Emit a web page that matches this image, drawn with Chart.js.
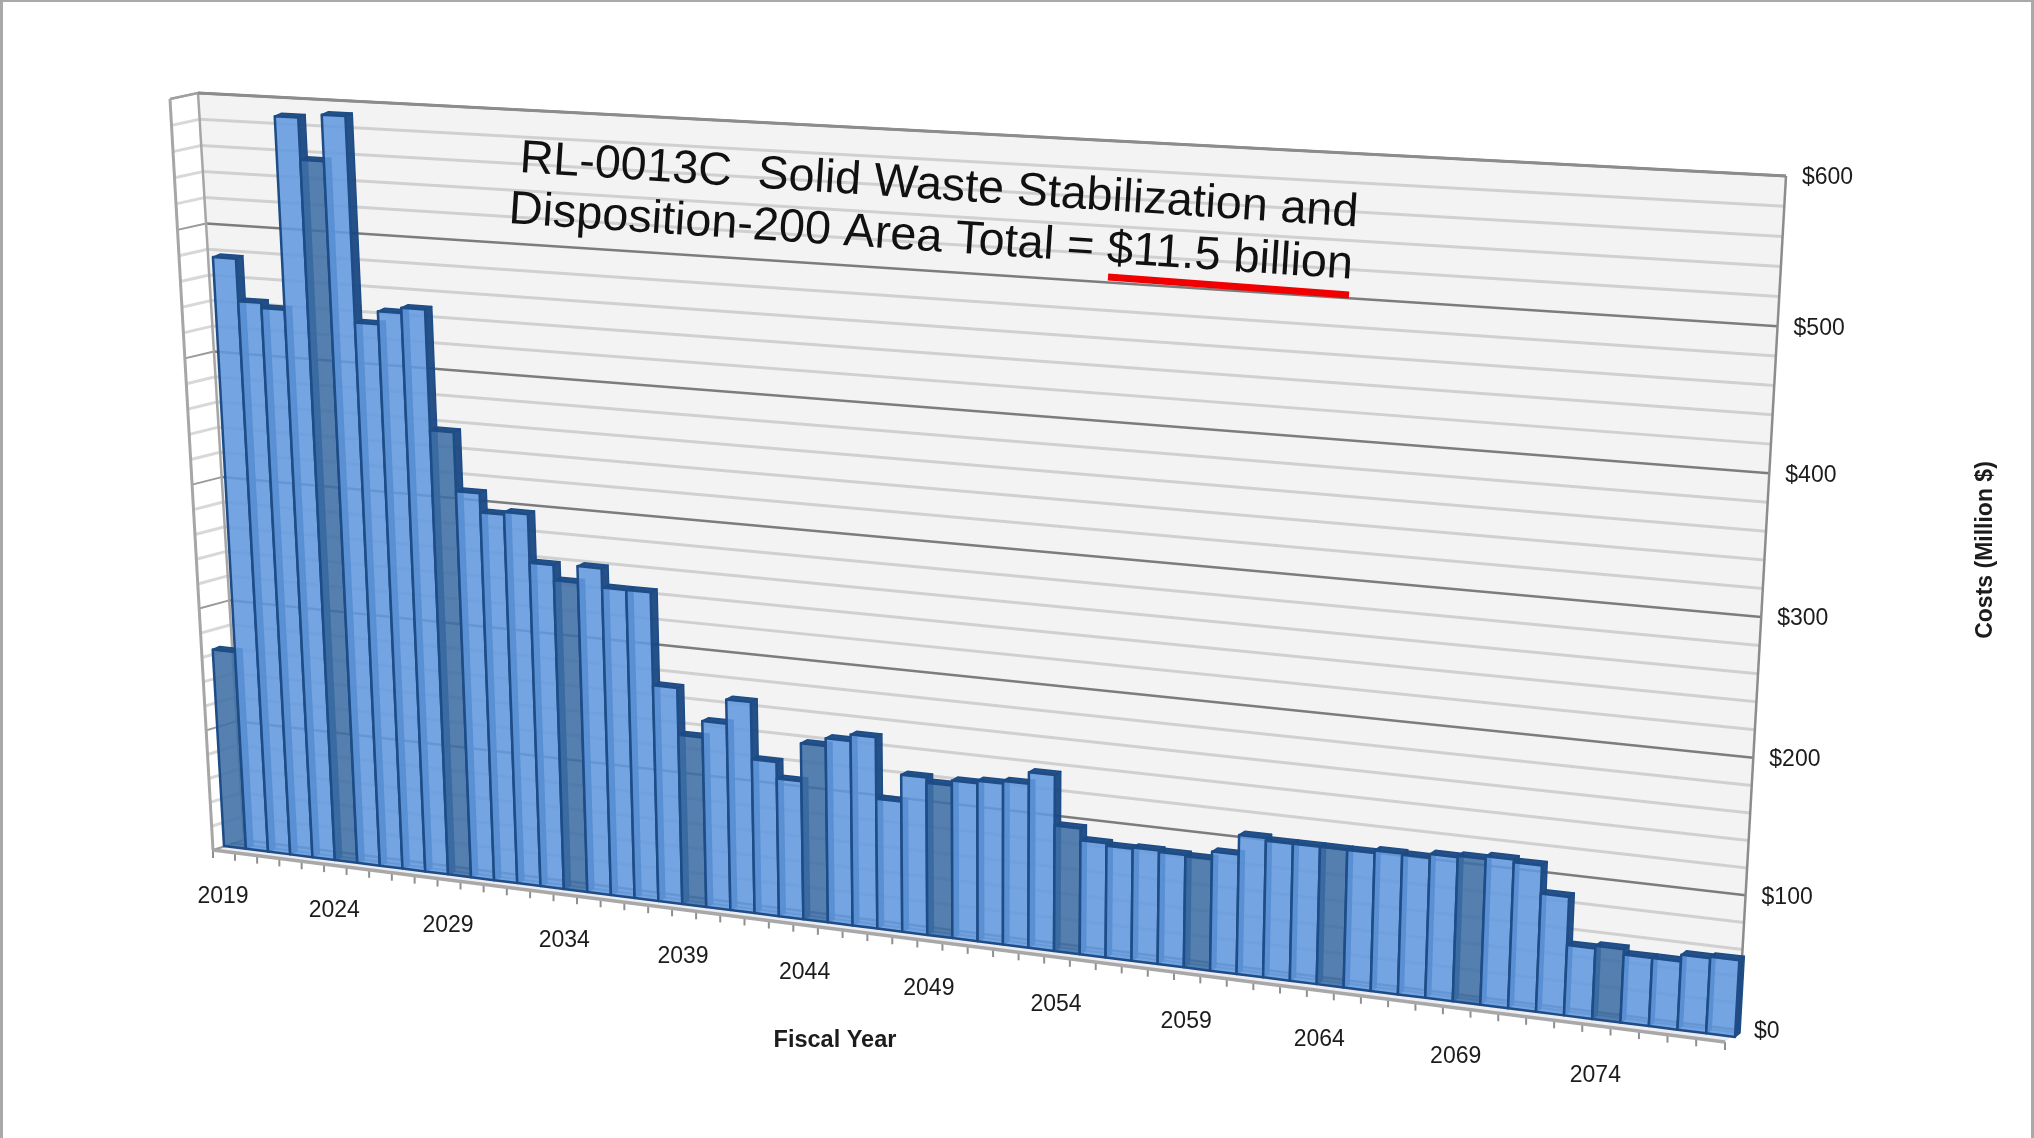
<!DOCTYPE html>
<html>
<head>
<meta charset="utf-8">
<title>RL-0013C Solid Waste Stabilization and Disposition</title>
<script src="https://cdn.jsdelivr.net/npm/chart.js@4/dist/chart.umd.min.js"></script>
<style>
    html, body { margin: 0; padding: 0; background: #fff; overflow: hidden; }
    #wrap { position: relative; width: 2034px; height: 1138px; }
    #frame { position: absolute; inset: 0; box-sizing: border-box; border: solid #a9a9a9; border-width: 2px 3px 0 3px; pointer-events: none; }
</style>
</head>
<body>
<div id="wrap">
    <canvas id="costs-chart" width="2034" height="1138"></canvas>
    <div id="frame"></div>
</div>
<script>
// Chart values
const fiscalYears = [
    '2019', '2020', '2021', '2022', '2023', '2024', '2025', '2026', '2027', '2028',
    '2029', '2030', '2031', '2032', '2033', '2034', '2035', '2036', '2037', '2038',
    '2039', '2040', '2041', '2042', '2043', '2044', '2045', '2046', '2047', '2048',
    '2049', '2050', '2051', '2052', '2053', '2054', '2055', '2056', '2057', '2058',
    '2059', '2060', '2061', '2062', '2063', '2064', '2065', '2066', '2067', '2068',
    '2069', '2070', '2071', '2072', '2073', '2074', '2075', '2076', '2077', '2078'
];
const costs = [
    164, 479, 446, 442, 590, 558, 593, 436, 446, 450,
    357, 311, 296, 298, 260, 248, 261, 246, 246, 173,
    136, 149, 168, 123, 110, 140, 146, 151, 103, 124,
    120, 124, 126, 128, 137, 98, 89, 87, 88, 87,
    86, 92, 107, 105, 105, 105, 105, 107, 106, 109,
    110, 112, 110, 89, 53, 55, 51, 51, 56, 57
];
const titleLines = ['RL-0013C  Solid Waste Stabilization and', 'Disposition-200 Area Total = $11.5 billion'];
const xAxisTitle = 'Fiscal Year';
const yAxisTitle = 'Costs (Million $)';

// Corners of the 3D box as [x, y]: bottom-left, bottom-right, top-right, top-left
const wallQuad = [[244, 840], [1738, 1030], [1786, 176], [198, 93]];
const edgeQuad = [[213, 850], [1725, 1042], [1772, 186], [170, 99]];
const barFrontQuad = [[224, 846], [1735, 1037], [1783, 183], [181, 98]];
const barBackQuad = [[231, 843], [1740, 1033], [1788, 179], [188, 95]];

const LIGHT_BAR = 'rgba(98, 152, 222, 0.88)';
const DARK_BAR = 'rgba(62, 110, 165, 0.88)';
const BAR_EDGE = '#1d4c86';
const BAR_SIDE = 'rgba(26, 72, 130, 0.95)';
const FONT = '"Liberation Sans", Arial, sans-serif';

// Unit square to quad, so the bars keep the perspective of the box
function makeProjection(quad) {
    const [[x0, y0], [x1, y1], [x2, y2], [x3, y3]] = quad;
    const dx1 = x1 - x2, dx2 = x3 - x2, sx = x0 - x1 + x2 - x3;
    const dy1 = y1 - y2, dy2 = y3 - y2, sy = y0 - y1 + y2 - y3;
    const den = dx1 * dy2 - dx2 * dy1;
    const g = (sx * dy2 - dx2 * sy) / den;
    const h = (dx1 * sy - sx * dy1) / den;
    const a = x1 - x0 + g * x1, b = x3 - x0 + h * x3;
    const d = y1 - y0 + g * y1, e = y3 - y0 + h * y3;
    return (u, v) => {
        const w = g * u + h * v + 1;
        return [(a * u + b * v + x0) / w, (d * u + e * v + y0) / w];
    };
}

const toWall = makeProjection(wallQuad);
const toEdge = makeProjection(edgeQuad);
const toBarFront = makeProjection(barFrontQuad);
const toBarBack = makeProjection(barBackQuad);

function line(ctx, p, q, color, width) {
    ctx.beginPath();
    ctx.moveTo(p[0], p[1]);
    ctx.lineTo(q[0], q[1]);
    ctx.strokeStyle = color;
    ctx.lineWidth = width;
    ctx.stroke();
}

function polygon(ctx, points, fill, stroke, width) {
    ctx.beginPath();
    points.forEach((p, i) => (i ? ctx.lineTo(p[0], p[1]) : ctx.moveTo(p[0], p[1])));
    ctx.closePath();
    if (fill) {
        ctx.fillStyle = fill;
        ctx.fill();
    }
    if (stroke) {
        ctx.strokeStyle = stroke;
        ctx.lineWidth = width;
        ctx.lineJoin = 'round';
        ctx.stroke();
    }
}

function drawNoteLine(ctx, text, x, y, degrees, size) {
    ctx.save();
    ctx.fillStyle = '#111111';
    ctx.textAlign = 'left';
    ctx.textBaseline = 'alphabetic';
    ctx.font = size + 'px ' + FONT;
    ctx.translate(x, y);
    ctx.rotate(degrees * Math.PI / 180);
    ctx.fillText(text, 0, 0);
    ctx.restore();
}

const perspectivePlugin = {
    id: 'perspectiveBox',

    // Walls, floor and gridlines go under the bars
    beforeDatasetsDraw(chart) {
        const ctx = chart.ctx;
        const area = chart.chartArea;
        const yScale = chart.scales.y;
        const xScale = chart.scales.x;

        polygon(ctx, [toEdge(0, 0), toWall(0, 0), toWall(0, 1), toEdge(0, 1)], '#ffffff');
        polygon(ctx, wallQuad, '#f3f3f3');
        polygon(ctx, [toEdge(0, 0), toEdge(1, 0), toWall(1, 0), toWall(0, 0)], '#ececf2');

        yScale.ticks.forEach(tick => {
            const v = (area.bottom - yScale.getPixelForValue(tick.value)) / area.height;
            const major = tick.value % 100 === 0;
            line(ctx, toWall(0, v), toWall(1, v), major ? '#7c7c7c' : '#d0d0d0', major ? 2.5 : 3);
            line(ctx, toEdge(0, v), toWall(0, v), major ? '#9a9a9a' : '#d8d8d8', major ? 2 : 3);
        });

        line(ctx, toEdge(0, 1), toWall(0, 1), '#a0a0a0', 2.5);
        line(ctx, toEdge(0, 0), toEdge(0, 1), '#a6a6a6', 3);
        line(ctx, toWall(0, 0), toWall(0, 1), '#a6a6a6', 2.5);
        line(ctx, toWall(0, 1), toWall(1, 1), '#8c8c8c', 3);
        line(ctx, toWall(1, 1), toWall(1, 0), '#8c8c8c', 2.5);

        // Category ticks along the front edge of the floor
        const count = xScale.ticks.length;
        for (let i = 0; i <= count; i++) {
            const p = toEdge(i / count, 0);
            line(ctx, p, [p[0], p[1] + 8], '#8f8f8f', 2);
        }
    },

    // The bars are drawn here as boxes, from the elements the bar controller laid out
    beforeDatasetDraw(chart, args) {
        const ctx = chart.ctx;
        const area = chart.chartArea;
        const toU = px => (px - area.left) / area.width;
        const toV = py => (area.bottom - py) / area.height;

        args.meta.data.forEach(bar => {
            const { x, y, base, width } = bar.getProps(['x', 'y', 'base', 'width'], true);
            const u0 = toU(x - width / 2), u1 = toU(x + width / 2);
            const v0 = toV(base), v1 = toV(y);

            line(ctx, toBarBack(u0, v0), toBarBack(u1, v0), 'rgba(29, 76, 134, 0.5)', 2);
            polygon(ctx, [toBarFront(u1, v0), toBarBack(u1, v0), toBarBack(u1, v1), toBarFront(u1, v1)], BAR_SIDE, BAR_EDGE, 1.5);
            polygon(ctx, [toBarFront(u0, v1), toBarFront(u1, v1), toBarBack(u1, v1), toBarBack(u0, v1)], BAR_SIDE, BAR_EDGE, 1.5);
            polygon(ctx, [toBarFront(u0, v0), toBarFront(u1, v0), toBarFront(u1, v1), toBarFront(u0, v1)],
                bar.options.backgroundColor, bar.options.borderColor, bar.options.borderWidth);
        });
        return false;
    },

    // Floor edge, labels and the note across the wall go on top
    afterDatasetsDraw(chart) {
        const ctx = chart.ctx;
        const area = chart.chartArea;
        const yScale = chart.scales.y;
        const xScale = chart.scales.x;

        line(ctx, toEdge(0, 0), toEdge(1, 0), '#a8a8a8', 3.5);

        ctx.fillStyle = '#1c1c1c';
        ctx.textBaseline = 'middle';
        ctx.font = '23px ' + FONT;

        ctx.textAlign = 'left';
        yScale.ticks.forEach(tick => {
            if (!tick.label) return;
            const v = (area.bottom - yScale.getPixelForValue(tick.value)) / area.height;
            const p = toWall(1, v);
            ctx.fillText(tick.label, p[0] + 16, p[1] + 2);
        });

        ctx.textAlign = 'center';
        xScale.ticks.forEach((tick, i) => {
            if (!tick.label) return;
            const u = (xScale.getPixelForValue(i) - area.left) / area.width;
            const p = toEdge(u, 0);
            ctx.fillText(tick.label, p[0] - 1, p[1] + 45 + 5 * u);
        });

        ctx.font = 'bold 23.5px ' + FONT;
        ctx.fillText(xAxisTitle, 835, 1041);
        ctx.save();
        ctx.font = 'bold 23px ' + FONT;
        ctx.translate(1986, 550);
        ctx.rotate(-Math.PI / 2);
        ctx.fillText(yAxisTitle, 0, 0);
        ctx.restore();

        drawNoteLine(ctx, titleLines[0], 519, 172, 3.72, 46.6);
        drawNoteLine(ctx, titleLines[1], 508, 223, 3.78, 46.8);
        line(ctx, [1108, 277], [1349, 295], '#f00000', 7);
    }
};

new Chart(document.getElementById('costs-chart'), {
    type: 'bar',
    data: {
        labels: fiscalYears,
        datasets: [{
            label: yAxisTitle,
            data: costs,
            // every fifth year is shaded darker
            backgroundColor: c => (c.dataIndex % 5 === 0 ? DARK_BAR : LIGHT_BAR),
            borderColor: BAR_EDGE,
            borderWidth: 2.5,
            barPercentage: 1,
            categoryPercentage: 1
        }]
    },
    options: {
        responsive: false,
        animation: false,
        layout: { padding: 0 },
        plugins: { legend: { display: false }, tooltip: { enabled: false }, title: { display: false } },
        scales: {
            x: {
                display: false,
                ticks: { autoSkip: false, callback: (v, i) => (i % 5 === 0 ? fiscalYears[i] : '') }
            },
            y: {
                display: false,
                min: 0,
                max: 600,
                ticks: { stepSize: 20, callback: v => (v % 100 === 0 ? '$' + v : '') }
            }
        }
    },
    plugins: [perspectivePlugin]
});
</script>
</body>
</html>
